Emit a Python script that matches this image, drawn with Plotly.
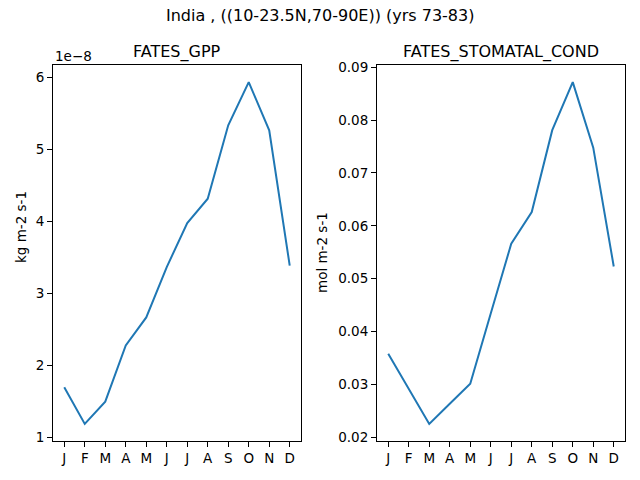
import plotly.graph_objects as go
from plotly.subplots import make_subplots

# %%
months = ["J", "F", "M", "A", "M", "J", "J", "A", "S", "O", "N", "D"]
gpp = [1.70e-8, 1.19e-8, 1.50e-8, 2.28e-8, 2.67e-8, 3.37e-8,
       3.98e-8, 4.32e-8, 5.34e-8, 5.94e-8, 5.27e-8, 3.39e-8]
stomatal_cond = [0.0358, 0.0292, 0.0225, 0.0263, 0.0301, 0.0434,
                 0.0566, 0.0626, 0.0781, 0.0872, 0.0748, 0.0523]
gpp_ticks = [1e-8, 2e-8, 3e-8, 4e-8, 5e-8, 6e-8]
gpp_ticktext = ["1", "2", "3", "4", "5", "6"]
cond_ticks = [0.02, 0.03, 0.04, 0.05, 0.06, 0.07, 0.08, 0.09]

x = list(range(len(months)))
font = "DejaVu Sans"

fig = make_subplots(rows=1, cols=2)
fig.add_trace(go.Scatter(x=x, y=gpp, mode="lines",
                         line=dict(color="#1f77b4", width=2)), row=1, col=1)
fig.add_trace(go.Scatter(x=x, y=stomatal_cond, mode="lines",
                         line=dict(color="#1f77b4", width=2)), row=1, col=2)

ax_common = dict(showline=True, mirror=True, linecolor="black", linewidth=1,
                 ticks="outside", ticklen=5, tickcolor="black",
                 showgrid=False, zeroline=False, automargin=False,
                 tickfont=dict(family=font, size=13.5, color="black"))

fig.update_xaxes(**ax_common, tickvals=x, ticktext=months, range=[-0.55, 11.55])
fig.update_xaxes(domain=[0.0828, 0.4703], row=1, col=1)
fig.update_xaxes(domain=[0.589, 0.9766], row=1, col=2)

fig.update_yaxes(**ax_common, domain=[0.08125, 0.8646])
fig.update_yaxes(tickvals=gpp_ticks, ticktext=gpp_ticktext,
                 range=[0.9525e-8, 6.1775e-8], row=1, col=1)
fig.update_yaxes(tickvals=cond_ticks, tickformat=".2f",
                 range=[0.01926, 0.09044], row=1, col=2)

# (text, x px, y px from bottom, size, xanchor, angle)
labels = [
    ("India , ((10-23.5N,70-90E)) (yrs 73-83)", 320, 464, 16, "center", 0),
    ("FATES_GPP", 177, 428, 16, "center", 0),
    ("FATES_STOMATAL_COND", 501, 428, 16, "center", 0),
    ("1e\u22128", 53, 424, 13.5, "left", 0),
    ("kg m-2 s-1", 21, 253, 13.5, "center", -90),
    ("mol m-2 s-1", 322, 227, 13.5, "center", -90),
]
for text, px, py, size, xa, ang in labels:
    fig.add_annotation(text=text, x=px / 640, y=py / 480, xref="paper",
                       yref="paper", showarrow=False, xanchor=xa,
                       yanchor="middle", textangle=ang,
                       font=dict(family=font, size=size, color="black"))

fig.update_layout(width=640, height=480, showlegend=False,
                  margin=dict(l=0, r=0, t=0, b=0),
                  plot_bgcolor="white", paper_bgcolor="white")

# drop the browser's default body margin so the 640x480 figure sits at 0,0
fig.write_html("out.html", config={"displayModeBar": False},
               post_script="document.body.style.margin='0';")
